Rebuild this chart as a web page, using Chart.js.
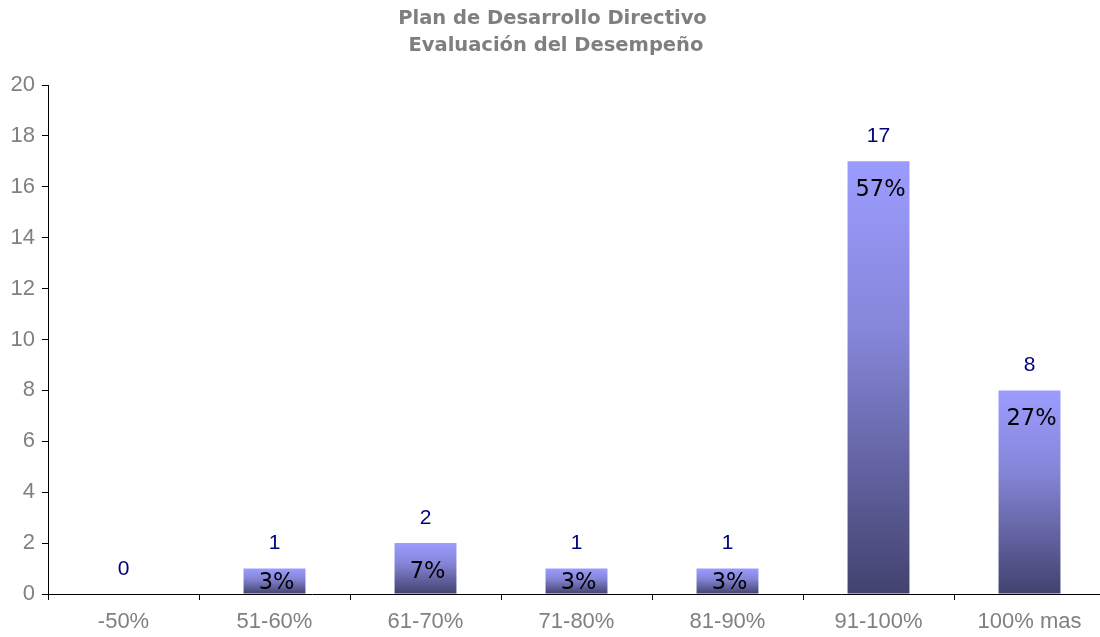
<!DOCTYPE html>
<html>
<head>
<meta charset="utf-8">
<script src="https://cdn.jsdelivr.net/npm/chart.js@4"></script>
<style>
  html, body { margin: 0; padding: 0; background: #fff; overflow: hidden; }
  #wrap { width: 1100px; height: 637px; overflow: hidden; }
</style>
</head>
<body>
<div id="wrap"><canvas id="chart" width="1110" height="637"></canvas></div>
<script>
const categories = ['-50%', '51-60%', '61-70%', '71-80%', '81-90%', '91-100%', '100% mas'];
const counts = [0, 1, 2, 1, 1, 17, 8];
const percents = [null, '3%', '7%', '3%', '3%', '57%', '27%'];
const yTicks = [0, 2, 4, 6, 8, 10, 12, 14, 16, 18, 20];

function barGradient(ctx) {
    const chart = ctx.chart;
    if (!chart.chartArea || ctx.type !== 'data') return '#8a8ae6';
    const y = chart.scales.y;
    const top = y.getPixelForValue(ctx.raw);
    const bottom = y.getPixelForValue(0);
    if (bottom - top < 1) return '#9c9cff';
    const g = chart.ctx.createLinearGradient(0, top, 0, bottom);
    g.addColorStop(0, '#9c9cff');
    g.addColorStop(0.4, '#8585d8');
    g.addColorStop(1, '#42426e');
    return g;
}

// value labels above the bars, percentages inside
const barLabels = {
    id: 'barLabels',
    afterDatasetsDraw(chart) {
        const c = chart.ctx;
        const meta = chart.getDatasetMeta(0);
        const base = chart.scales.y.getPixelForValue(0);
        c.save();
        c.textAlign = 'center';
        c.textBaseline = 'middle';
        meta.data.forEach((bar, i) => {
            c.fillStyle = '#000080';
            c.font = '21px "Liberation Sans", Arial, sans-serif';
            c.fillText(String(counts[i]), bar.x, bar.y - 25);
            if (percents[i]) {
                c.fillStyle = '#000';
                c.font = '22.5px "DejaVu Sans", sans-serif';
                const py = Math.min(bar.y + 29, base - 11);
                c.fillText(percents[i], bar.x + 2, py);
            }
        });
        c.restore();
    }
};

new Chart(document.getElementById('chart'), {
    type: 'bar',
    data: {
        labels: categories,
        datasets: [{
            data: counts,
            backgroundColor: barGradient,
            borderWidth: 0,
            borderColor: 'rgba(0,0,0,0)',
            categoryPercentage: 1,
            barPercentage: 0.41
        }]
    },
    options: {
        responsive: false,
        animation: false,
        layout: { padding: { left: 0, right: 5, top: 0, bottom: 0 } },
        plugins: {
            legend: { display: false },
            tooltip: { enabled: false },
            title: {
                display: true,
                text: ['Plan de Desarrollo Directivo', ' Evaluación del Desempeño'],
                color: '#7f7f7f',
                font: { family: '"DejaVu Sans", Verdana, sans-serif', size: 19.5, weight: 'bold', lineHeight: 1.385 },
                padding: { top: 5.5, bottom: 25.5 }
            }
        },
        scales: {
            x: {
                offset: true,
                grid: { offset: true, drawOnChartArea: false, drawTicks: true, tickLength: 6, color: '#000' },
                border: { color: '#000', width: 1 },
                ticks: {
                    color: '#808080',
                    padding: 9,
                    maxRotation: 0,
                    font: { family: '"Liberation Sans", Arial, sans-serif', size: 22 }
                },
                afterFit(scale) { scale.height = 43; }
            },
            y: {
                min: 0,
                max: 20,
                afterBuildTicks(scale) { scale.ticks = yTicks.map(v => ({ value: v })); },
                grid: { drawOnChartArea: false, drawTicks: true, tickLength: 6, color: '#000' },
                border: { color: '#000', width: 1 },
                ticks: {
                    color: '#808080',
                    padding: 7,
                    font: { family: '"Liberation Sans", Arial, sans-serif', size: 22 }
                },
                afterFit(scale) { scale.width = 48; }
            }
        }
    },
    plugins: [barLabels]
});
</script>
</body>
</html>
